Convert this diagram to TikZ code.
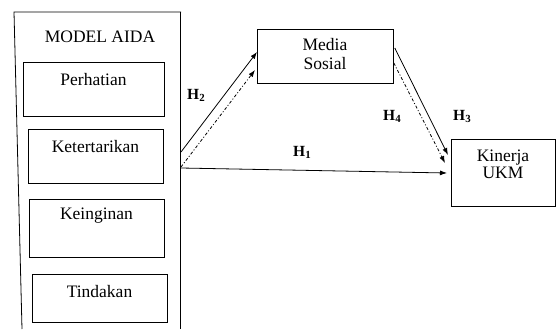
\documentclass[tikz,border=0pt]{standalone}
\usepackage{fontspec}
\setmainfont{Liberation Serif}
\usetikzlibrary{arrows.meta}
\begin{document}
\begin{tikzpicture}[x=1pt,y=-1pt,
  box/.style={draw, line width=0.8pt, inner sep=0pt, anchor=north west},
  txt/.style={font=\fontsize{17.5}{18}\selectfont, anchor=base, inner sep=0pt},
  hl/.style={font=\fontsize{15.5}{16}\selectfont\bfseries, anchor=base west, inner sep=0pt},
  arr/.style={line width=0.8pt, -{Latex[length=7pt,width=5pt]}},
  dd/.style={arr, dash pattern=on 3pt off 2pt on 1pt off 2pt}]
\useasboundingbox (0,0) rectangle (556,329);
% outer frame
\draw[line width=0.8pt] (22,329) -- (14,12) -- (181,12);
\draw[line width=0.8pt] (180,12) -- (180,329);
\node[txt] (aida) at (100,43) {MODEL AIDA};
% inner boxes
\node[box, minimum width=141pt, minimum height=54pt] (perhatian) at (23,62) {};
\node[txt] (tperhatian) at (93.5,85) {Perhatian};
\node[box, minimum width=135pt, minimum height=54pt] (ketertarikan) at (28,129) {};
\node[txt] (tketertarikan) at (95.5,152) {Ketertarikan};
\node[box, minimum width=135pt, minimum height=58pt] (keinginan) at (29,199) {};
\node[txt] (tkeinginan) at (96.5,219) {Keinginan};
\node[box, minimum width=135pt, minimum height=48pt] (tindakan) at (32,274) {};
\node[txt] (ttindakan) at (99.5,297) {Tindakan};
% right boxes
\node[box, minimum width=136pt, minimum height=54pt] (media) at (257,29) {};
\node[txt] (tmedia1) at (325,51) {Media};
\node[txt] (tmedia2) at (325,69) {Sosial};
\node[box, minimum width=104pt, minimum height=67pt] (kinerja) at (451,139) {};
\node[txt] (tkin1) at (503,161) {Kinerja};
\node[txt] (tkin2) at (503,178) {UKM};
% start points
\coordinate (s2) at (181,152);
\coordinate (s4) at (181,167);
\coordinate (s1) at (181,168);
% arrows
\draw[arr] (s2) -- ([yshift=-23pt]media.north west);
\draw[dd] (s4) -- ([xshift=-2pt,yshift=-41pt]media.north west);
\draw[arr] (s1) -- ([xshift=-4pt,yshift=-34pt]kinerja.north west);
\draw[arr] ([xshift=1pt,yshift=-19pt]media.north east) -- ([xshift=-3pt,yshift=-16pt]kinerja.north west);
\draw[dd] ([yshift=-34pt]media.north east) -- ([xshift=-6pt,yshift=-24pt]kinerja.north west);
% labels
\node[hl] (h2) at (187,99) {H\textsubscript{2}};
\node[hl] (h1) at (293,156) {H\textsubscript{1}};
\node[hl] (h4) at (383,120) {H\textsubscript{4}};
\node[hl] (h3) at (453,120) {H\textsubscript{3}};
\end{tikzpicture}
\end{document}
